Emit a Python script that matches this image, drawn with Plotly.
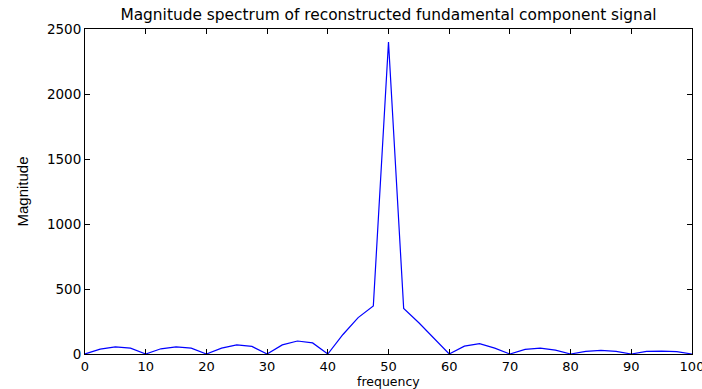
import plotly.graph_objects as go

freq = [0, 2.5, 5, 7.5, 10, 12.5, 15, 17.5, 20, 22.5, 25, 27.5, 30, 32.5, 35, 37.5,
        40, 42.5, 45, 47.5, 50, 52.5, 55, 57.5, 60, 62.5, 65, 67.5, 70, 72.5, 75, 77.5,
        80, 82.5, 85, 87.5, 90, 92.5, 95, 97.5, 100]
magnitude = [0, 38, 55, 45, 0, 40, 55, 45, 0, 45, 70, 58, 0, 70, 100, 85,
             0, 150, 280, 370, 2400, 350, 240, 120, 0, 60, 80, 45, 0, 35, 45, 30,
             0, 20, 28, 20, 0, 20, 22, 18, 0]
x_ticks = [0, 10, 20, 30, 40, 50, 60, 70, 80, 90, 100]
y_ticks = [0, 500, 1000, 1500, 2000, 2500]

fig = go.Figure()
fig.add_trace(go.Scatter(x=freq, y=magnitude, mode="lines",
                         line=dict(color="#0000FF", width=1.2), showlegend=False))

tickfont = dict(family="DejaVu Sans", size=13.5, color="black")
fig.update_layout(
    width=702, height=389,
    margin=dict(l=85, r=10, t=29, b=35),
    paper_bgcolor="white", plot_bgcolor="white",
    title=dict(text="Magnitude spectrum of reconstructed fundamental component signal",
               x=0.5, xref="paper", xanchor="center",
               y=1 - 15/389, yref="container", yanchor="middle",
               font=dict(family="DejaVu Sans", size=15.4, color="black")),
    xaxis=dict(range=[0, 100], tickvals=x_ticks, ticks="inside", ticklen=5,
               tickcolor="black", showline=True, linecolor="black", linewidth=1,
               mirror="ticks", showgrid=False, zeroline=False,
               tickfont=dict(family="DejaVu Sans", size=13, color="black"),
               automargin=False, ticklabeloverflow="allow"),
    yaxis=dict(range=[0, 2500], tickvals=y_ticks, ticks="inside", ticklen=5,
               tickcolor="black", showline=True, linecolor="black", linewidth=1,
               mirror="ticks", showgrid=False, zeroline=False, tickfont=tickfont,
               automargin=False,
               title=dict(text="Magnitude", standoff=14,
                          font=dict(family="Liberation Sans Narrow, Arial", size=15, color="black"))),
    annotations=[dict(text="frequency", xref="paper", yref="paper", x=0.5,
                      y=-(381 - 354) / 325, yanchor="middle", xanchor="center",
                      showarrow=False,
                      font=dict(family="DejaVu Sans", size=12.5, color="black"))],
)
fig.write_html("out.html")
